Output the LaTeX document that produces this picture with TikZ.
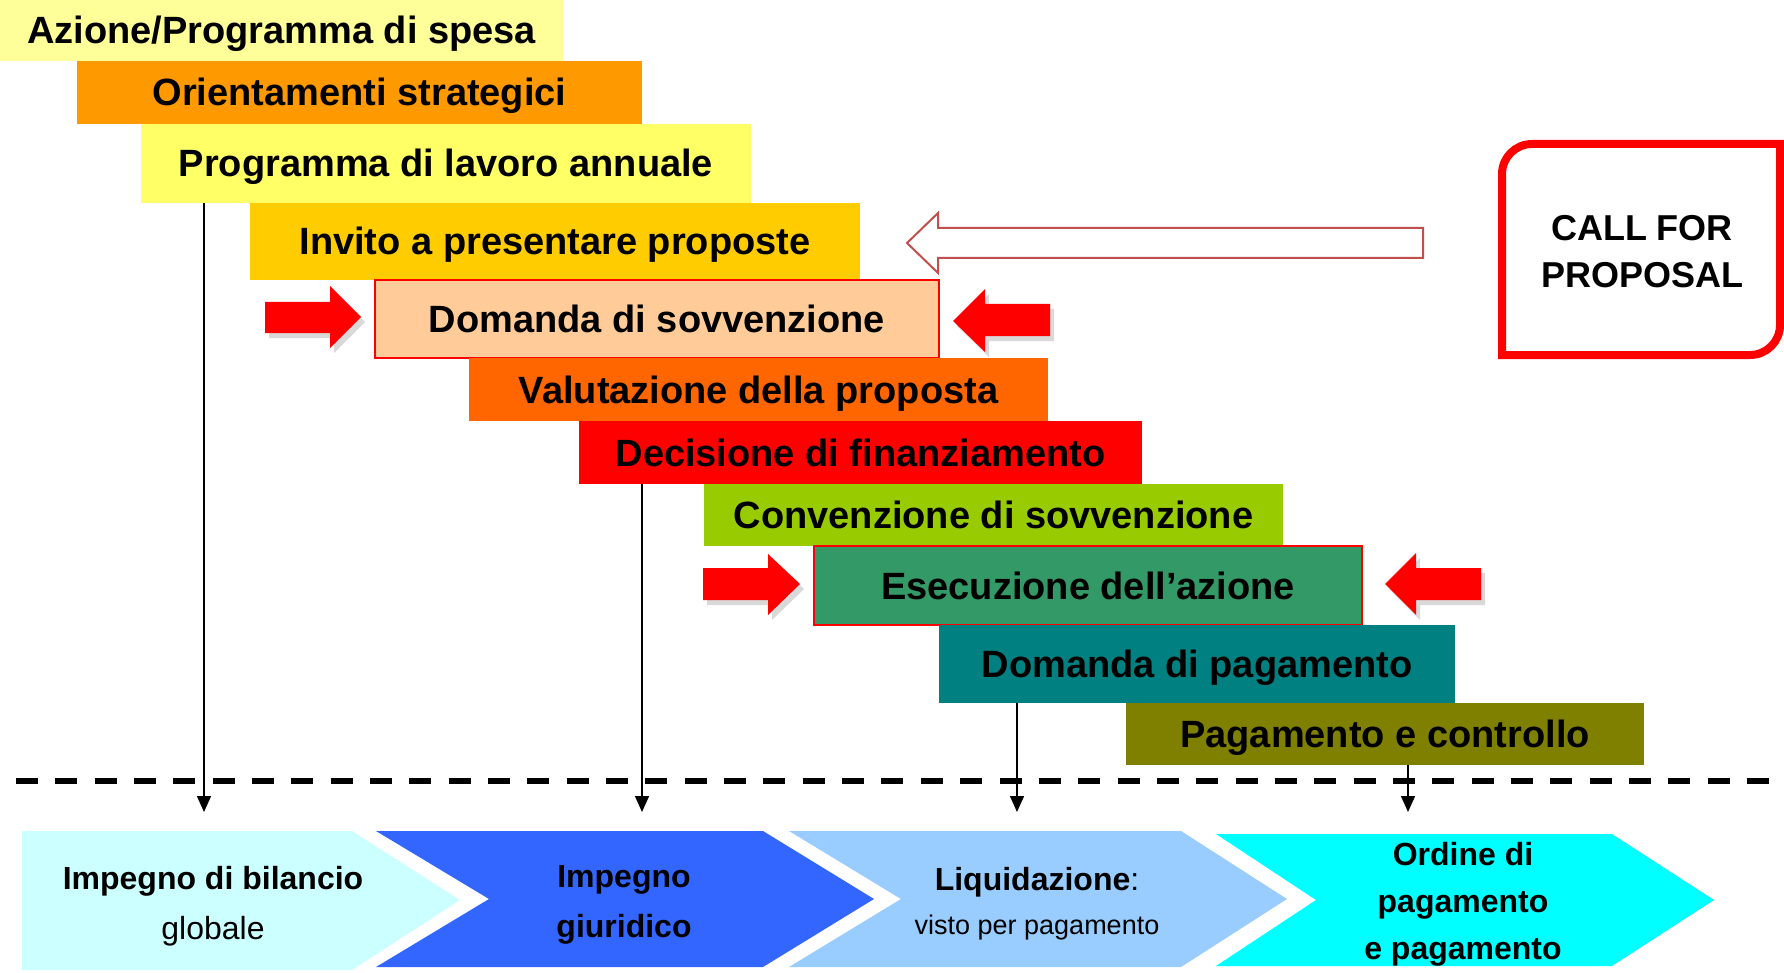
\documentclass[tikz,border=0pt]{standalone}
\usepackage{fontspec}
\setmainfont{Liberation Sans}
\usetikzlibrary{arrows.meta,shadows}

\definecolor{paleyellow}{HTML}{FFFF99}
\definecolor{darkorange}{HTML}{FF9900}
\definecolor{lightyellow}{HTML}{FFFF66}
\definecolor{goldbox}{HTML}{FFCC00}
\definecolor{peach}{HTML}{FFCC99}
\definecolor{redorange}{HTML}{FF6600}
\definecolor{yellowgreen}{HTML}{99CC00}
\definecolor{seagreen}{HTML}{339966}
\definecolor{tealbox}{HTML}{008080}
\definecolor{olivebox}{HTML}{808000}
\definecolor{chevpale}{HTML}{CCFFFF}
\definecolor{chevblue}{HTML}{3366FF}
\definecolor{chevlight}{HTML}{99CCFF}
\definecolor{chevcyan}{HTML}{00FFFF}
\definecolor{arrowred}{HTML}{C0504D}

\begin{document}
\begin{tikzpicture}[
    x=1pt, y=-1pt,
    stage/.style={rectangle, inner sep=0pt, text height=27pt, text depth=0pt, font=\fontsize{38}{44}\selectfont\bfseries},
    redframe/.style={draw=red, line width=1.5pt},
    chevtext/.style={align=center, font=\fontsize{32}{50}\selectfont},
    downarrow/.style={-{Triangle[length=16pt,width=14pt]}, line width=1.5pt},
    redarrow/.style={fill=red, drop shadow={opacity=0.3, shadow xshift=4pt, shadow yshift=-5pt}},
    hollowarrow/.style={draw=arrowred, fill=white, line width=2pt, line join=miter}
]
\clip (0,0) rectangle (1784,973);

% cascade of phases
\node[stage, fill=paleyellow, minimum width=563pt, minimum height=61pt] (azione) at (281.5,30.5) {Azione/Programma di spesa};
\node[stage, fill=darkorange, minimum width=565pt, minimum height=63pt] (orient) at (359.5,92.5) {Orientamenti strategici};
\node[stage, fill=lightyellow, minimum width=610pt, minimum height=79pt] (lavoro) at (446,163.5) {Programma di lavoro annuale};
\node[stage, fill=goldbox, minimum width=610pt, minimum height=77pt] (invito) at (555,241.5) {Invito a presentare proposte};
\node[stage, redframe, fill=peach, minimum width=564pt, minimum height=78pt] (domanda) at (657,319) {Domanda di sovvenzione};
\node[stage, fill=redorange, minimum width=579pt, minimum height=63pt] (valut) at (758.5,389.5) {Valutazione della proposta};
\node[stage, fill=red, minimum width=563pt, minimum height=63pt] (decis) at (860.5,452.5) {Decisione di finanziamento};
\node[stage, fill=yellowgreen, minimum width=579pt, minimum height=62pt] (conv) at (993.5,515) {Convenzione di sovvenzione};
\node[stage, redframe, fill=seagreen, minimum width=548pt, minimum height=79pt] (esec) at (1088,585.5) {Esecuzione dell’azione};
\node[stage, fill=tealbox, minimum width=516pt, minimum height=78pt] (dompag) at (1197,664) {Domanda di pagamento};
\node[stage, fill=olivebox, minimum width=518pt, minimum height=62pt] (pagam) at (1385,734) {Pagamento e controllo};

% call for proposal
\node[align=center, font=\fontsize{36}{47}\selectfont\bfseries] (call) at (1642,252) {CALL FOR\\PROPOSAL};
\draw[red, line width=8pt] (1502,355) -- (1502,250) [rounded corners=30pt] -- (1502,144) -- (1640,144)
    [sharp corners] -- (1780,144) -- (1780,250) [rounded corners=30pt] -- (1780,355) -- (1640,355) [sharp corners] -- cycle;
\draw[hollowarrow] (907,243) -- (938,213) -- (938,228) -- (1423,228) -- (1423,258) -- (938,258) -- (938,273) -- cycle;

% red pointers
\fill[redarrow] (265,302) -- (330,302) -- (330,286) -- (361,317) -- (330,348) -- (330,333) -- (265,333) -- cycle;
\fill[redarrow] (953,321) -- (985,289) -- (985,304) -- (1050,304) -- (1050,336) -- (985,336) -- (985,352) -- cycle;
\fill[redarrow] (703,568) -- (768,568) -- (768,554) -- (800,584) -- (768,615) -- (768,600) -- (703,600) -- cycle;
\fill[redarrow] (1385,584) -- (1416,553) -- (1416,568) -- (1481,568) -- (1481,600) -- (1416,600) -- (1416,615) -- cycle;

% separator and commitments
\coordinate (dl) at (16,781);
\coordinate (dr) at (1772,781);
\draw[line width=6pt, dash pattern=on 22pt off 17.34pt] (dl) -- (dr);

\coordinate (t1) at (204,812);
\coordinate (t2) at (642,812);
\coordinate (t3) at (1017,812);
\coordinate (t4) at (1408,812);
\draw[downarrow] (lavoro.south -| t1) -- (t1);
\draw[downarrow] (decis.south -| t2) -- (t2);
\draw[downarrow] (dompag.south -| t3) -- (t3);
\draw[downarrow] (pagam.south -| t4) -- (t4);

% budget chevrons
\fill[chevpale] (22,831) -- (352,831) -- (460,900) -- (352,970) -- (22,970) -- cycle;
\fill[chevblue] (376,831) -- (763,831) -- (874,899) -- (763,967) -- (376,967) -- (489,899) -- cycle;
\fill[chevlight] (789,831) -- (1181,831) -- (1287,899) -- (1181,967) -- (789,967) -- (901,899) -- cycle;
\fill[chevcyan] (1216,834) -- (1612,834) -- (1714,900) -- (1612,966) -- (1216,966) -- (1316,900) -- cycle;

\node[chevtext] (bilancio) at (213,906) {\textbf{Impegno di bilancio}\\globale};
\node[chevtext] (giuridico) at (624,905) {\textbf{Impegno}\\\textbf{giuridico}};
\node[chevtext] (liquid) at (1037,904) {\textbf{Liquidazione}:\\[-6pt]\fontsize{27}{34}\selectfont visto per pagamento};
\node[chevtext, font=\fontsize{32}{47}\selectfont\bfseries] (ordine) at (1463,904) {Ordine di\\pagamento\\e pagamento};

\end{tikzpicture}
\end{document}
